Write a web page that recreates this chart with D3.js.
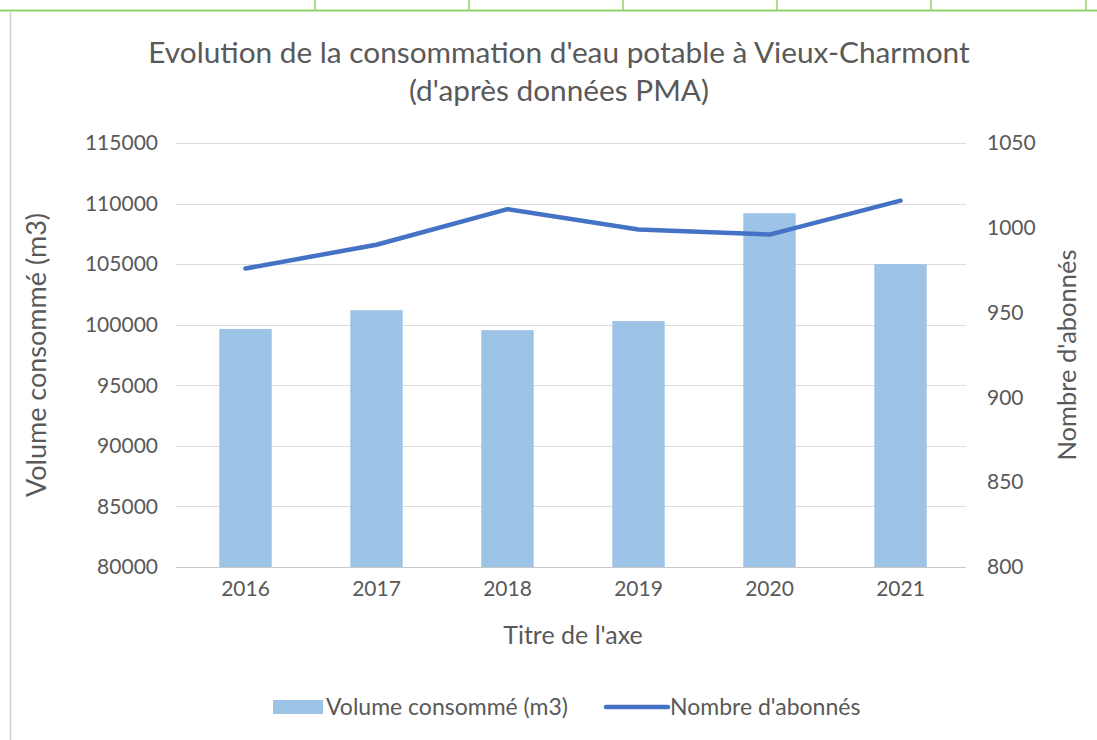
<!DOCTYPE html>
<html>
<head>
<meta charset="utf-8">
<script src="https://cdn.jsdelivr.net/npm/d3@7"></script>
<style>
  body { margin: 0; background: #fff; }
  text { font-family: Lato, "Open Sans", sans-serif; fill: #595959; }
</style>
</head>
<body>
<script>
// data
const years = ['2016', '2017', '2018', '2019', '2020', '2021'];
const volume = [99650, 101200, 99550, 100300, 109200, 105000];
const abonnes = [976, 990, 1011, 999, 996, 1016];
const leftTicks = [80000, 85000, 90000, 95000, 100000, 105000, 110000, 115000];
const rightTicks = [800, 850, 900, 950, 1000, 1050];

const width = 1097, height = 740;
const margin = {top: 143, right: 131, bottom: 173, left: 180};

const svg = d3.select('body').append('svg')
    .attr('width', width)
    .attr('height', height);

// spreadsheet cell lines behind the chart
const cellX = [315, 469, 623, 777, 931, 1086];
svg.append('g').selectAll('line')
    .data(cellX)
    .enter().append('line')
    .attr('x1', d => d).attr('x2', d => d)
    .attr('y1', 0).attr('y2', 10)
    .attr('stroke', '#8fd46a').attr('stroke-width', 1.5);
svg.append('line')
    .attr('x1', 0).attr('x2', width)
    .attr('y1', 10.5).attr('y2', 10.5)
    .attr('stroke', '#8fd46a').attr('stroke-width', 2);
svg.append('line')
    .attr('x1', 10.5).attr('x2', 10.5)
    .attr('y1', 12).attr('y2', height)
    .attr('stroke', '#d0d0d0').attr('stroke-width', 1.5);

const x = d3.scaleBand()
    .domain(years)
    .range([margin.left, width - margin.right])
    .paddingInner(0.6)
    .paddingOuter(0.3);

const yL = d3.scaleLinear()
    .domain([80000, 115000])
    .range([height - margin.bottom, margin.top]);

const yR = d3.scaleLinear()
    .domain([800, 1050])
    .range([height - margin.bottom, margin.top]);

// gridlines
svg.append('g')
    .selectAll('line')
    .data(leftTicks)
    .enter().append('line')
    .attr('x1', margin.left - 4).attr('x2', width - margin.right)
    .attr('y1', d => Math.round(yL(d)) + 0.5)
    .attr('y2', d => Math.round(yL(d)) + 0.5)
    .attr('stroke', d => d === 80000 ? '#c8c8c8' : '#dcdcdc')
    .attr('stroke-width', 1.2);

// left axis labels
svg.append('g')
    .attr('transform', `translate(${margin.left - 22},0)`)
    .call(d3.axisLeft(yL).tickValues(leftTicks).tickSize(0).tickPadding(0).tickFormat(d3.format('d')))
    .call(g => g.select('.domain').remove())
    .selectAll('text')
    .style('font-size', '21px')
    .attr('fill', '#595959');

// right axis labels
svg.append('g')
    .attr('transform', `translate(${width - margin.right + 21},0)`)
    .call(d3.axisRight(yR).tickValues(rightTicks).tickSize(0).tickPadding(0).tickFormat(d3.format('d')))
    .call(g => g.select('.domain').remove())
    .selectAll('text')
    .style('font-size', '21px')
    .attr('fill', '#595959');

// x axis labels
svg.append('g')
    .attr('transform', `translate(0,${height - margin.bottom + 14})`)
    .call(d3.axisBottom(x).tickSize(0).tickPadding(0))
    .call(g => g.select('.domain').remove())
    .selectAll('text')
    .style('font-size', '21px')
    .attr('fill', '#595959');

// bars
svg.append('g')
    .selectAll('rect')
    .data(years)
    .enter().append('rect')
    .attr('x', (d, i) => x(d))
    .attr('width', x.bandwidth())
    .attr('y', (d, i) => yL(volume[i]))
    .attr('height', (d, i) => yL(80000) - yL(volume[i]))
    .attr('fill', '#9dc3e6');

// line
const line = d3.line()
    .x((d, i) => x(years[i]) + x.bandwidth() / 2)
    .y(d => yR(d));

svg.append('path')
    .datum(abonnes)
    .attr('d', line)
    .attr('fill', 'none')
    .attr('stroke', '#4472c4')
    .attr('stroke-width', 4.5)
    .attr('stroke-linecap', 'round')
    .attr('stroke-linejoin', 'round');

// titles
svg.append('text')
    .attr('x', 559).attr('y', 63)
    .attr('text-anchor', 'middle')
    .style('font-size', '29.8px')
    .text("Evolution de la consommation d'eau potable à Vieux-Charmont");
svg.append('text')
    .attr('x', 559).attr('y', 101)
    .attr('text-anchor', 'middle')
    .style('font-size', '29.8px')
    .text("(d'après données PMA)");

svg.append('text')
    .attr('transform', `translate(46,${(yL(80000) + yL(115000)) / 2}) rotate(-90)`)
    .attr('text-anchor', 'middle')
    .style('font-size', '27px')
    .text('Volume consommé (m3)');

svg.append('text')
    .attr('transform', `translate(1076,${(yR(800) + yR(1050)) / 2}) rotate(-90)`)
    .attr('text-anchor', 'middle')
    .style('font-size', '25.5px')
    .text("Nombre d'abonnés");

svg.append('text')
    .attr('x', (margin.left + width - margin.right) / 2)
    .attr('y', 644)
    .attr('text-anchor', 'middle')
    .style('font-size', '25px')
    .text("Titre de l'axe");

// legend
const legend = svg.append('g').attr('transform', 'translate(0,707)');
legend.append('rect')
    .attr('x', 273).attr('y', -7).attr('width', 50).attr('height', 14)
    .attr('fill', '#9dc3e6');
legend.append('text')
    .attr('x', 326).attr('y', 8)
    .style('font-size', '23px')
    .text('Volume consommé (m3)');
legend.append('line')
    .attr('x1', 606).attr('x2', 668)
    .attr('y1', 0).attr('y2', 0)
    .attr('stroke', '#4472c4').attr('stroke-width', 4.5)
    .attr('stroke-linecap', 'round');
legend.append('text')
    .attr('x', 670).attr('y', 8)
    .style('font-size', '23px')
    .text("Nombre d'abonnés");
</script>
</body>
</html>
